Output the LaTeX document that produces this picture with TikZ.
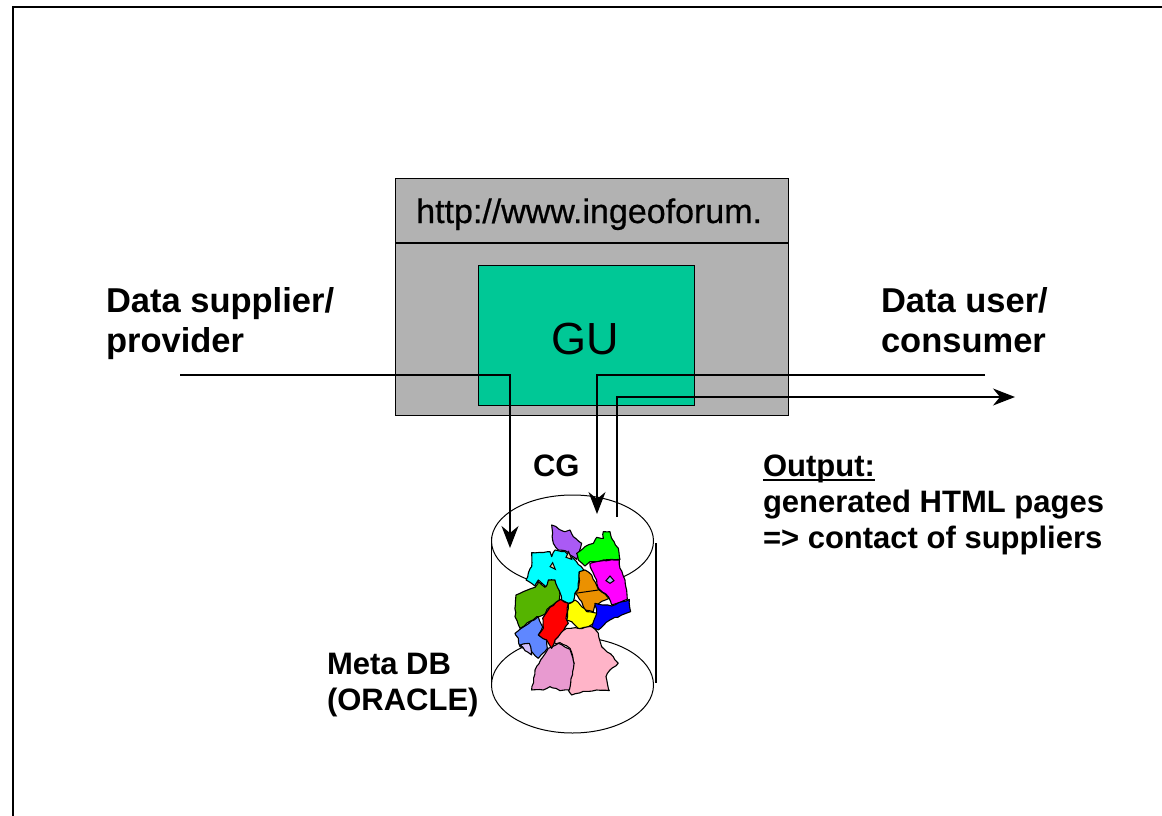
\documentclass[tikz,border=0pt]{standalone}
\usepackage{fontspec}
\setmainfont{Liberation Sans}
\newfontfamily\urlfont[FakeBold=0.6]{Liberation Sans}
\usetikzlibrary{arrows.meta,shapes.geometric,decorations.pathmorphing}
\definecolor{boxgray}{HTML}{B2B2B2}
\definecolor{guigreen}{HTML}{00C896}
\definecolor{mapcyan}{HTML}{00FFFF}
\definecolor{mapmagenta}{HTML}{FF00FF}
\definecolor{mapgreen}{HTML}{00FF00}
\definecolor{mapblue}{HTML}{0000FF}
\definecolor{mapred}{HTML}{FF0000}
\definecolor{mapyellow}{HTML}{FFFF00}
\tikzset{
  lbl/.style={anchor=base west,inner sep=0pt,outer sep=0pt,align=left,font=\fontsize{34.5}{40}\selectfont\bfseries},
  flow/.style={line width=1.3pt,black},
  tip/.style={-{Stealth[length=22pt,width=17pt,inset=7pt]}},
  state/.style={draw=black,line width=1.1pt,line join=round,decorate,decoration={random steps,segment length=4pt,amplitude=0.7pt}}
}
\begin{document}
\begin{tikzpicture}[x=1pt,y=-1pt]
      \useasboundingbox (0,0) rectangle (1162,816);

      \coordinate (f1) at (13,816);
      \coordinate (f2) at (13,7);
      \coordinate (f3) at (1162,7);
      \draw [line width=1.5pt] (f1) -- (f2) -- (f3);

      % web server box
      \node [draw, line width=1.2pt, fill=boxgray, minimum width=393pt, minimum height=237pt, inner sep=0pt, anchor=north west] (server) at (395,178) {};
      \coordinate (d1) at (395,243);
      \coordinate (d2) at (788,243);
      \draw [line width=1.2pt] (d1) -- (d2);
      \node [draw, line width=1.2pt, fill=guigreen, minimum width=216pt, minimum height=140pt, inner sep=0pt, anchor=north west] (gu) at (478,265) {};

      \node [anchor=base west, inner sep=0pt, font=\urlfont\fontsize{34}{34}\selectfont] (url) at (416,223) {http://www.ingeoforum.};
      \node [anchor=base west, inner sep=0pt, font=\fontsize{45}{45}\selectfont] (gulabel) at (551,354) {GU};

      % cylinder
      \node [draw, line width=1pt, ellipse, minimum width=162pt, minimum height=92pt, inner sep=0pt] (top) at (572.5,541) {};
      \node [draw, line width=1pt, ellipse, minimum width=162pt, minimum height=96pt, inner sep=0pt] (bottom) at (572.5,685) {};
      \coordinate (c1) at (491.5,537);
      \coordinate (c2) at (491.5,685);
      \coordinate (c3) at (656,543);
      \coordinate (c4) at (656,683);
      \draw [line width=1.2pt] (c1) -- (c2);
      \draw [line width=1.2pt] (c3) -- (c4);

      % map
      \begin{scope}[shift={(470,500)}, x=0.3333pt, y=-0.3333pt]
        \draw [state, fill={rgb,255:red,255;green,180;blue,200}] (250,405) -- (290,385) -- (325,385) -- (365,380) -- (385,400) -- (395,440) -- (430,470) -- (445,490) -- (420,510) -- (408,530) -- (418,572) -- (380,570) -- (340,574) -- (305,585) -- (295,570) -- (312,490) -- (300,445) -- (270,428) -- (255,432) -- cycle;
        \draw [state, fill={rgb,255:red,232;green,154;blue,208}] (235,445) -- (265,430) -- (300,448) -- (312,490) -- (298,570) -- (270,572) -- (240,560) -- (220,570) -- (185,570) -- (195,510) -- cycle;
        \draw [state, fill={rgb,255:red,95;green,135;blue,255}] (135,400) -- (205,350) -- (218,380) -- (205,405) -- (230,420) -- (232,445) -- (205,475) -- (185,455) -- (150,440) -- (145,415) -- cycle;
        \draw [state, fill={rgb,255:red,210;green,190;blue,250}] (150,435) -- (178,430) -- (185,465) -- (165,452) -- cycle;
        \draw [state, fill={rgb,255:red,85;green,180;blue,0}] (138,285) -- (195,262) -- (205,245) -- (225,262) -- (235,240) -- (255,240) -- (268,272) -- (268,300) -- (240,320) -- (220,345) -- (200,350) -- (150,385) -- (135,350) -- cycle;
        \draw [state, fill=mapcyan] (185,158) -- (240,155) -- (245,170) -- (255,150) -- (285,155) -- (310,175) -- (345,215) -- (328,215) -- (325,265) -- (315,280) -- (310,305) -- (295,310) -- (275,300) -- (268,272) -- (255,240) -- (235,240) -- (228,260) -- (205,240) -- (195,258) -- (168,240) -- (185,200) -- cycle;
        \draw [state, fill={rgb,255:red,170;green,90;blue,245}] (245,75) -- (285,95) -- (300,90) -- (310,110) -- (335,130) -- (320,178) -- (300,165) -- (285,152) -- (265,150) -- (250,130) -- (248,100) -- cycle;
        \draw [state, fill=mapgreen] (320,160) -- (345,140) -- (370,130) -- (380,112) -- (400,115) -- (400,95) -- (420,95) -- (425,115) -- (445,145) -- (450,178) -- (400,180) -- (385,185) -- (360,185) -- (345,198) -- (325,180) -- cycle;
        \draw [state, fill=mapmagenta] (360,190) -- (400,182) -- (448,180) -- (450,205) -- (465,240) -- (470,270) -- (472,298) -- (425,315) -- (415,290) -- (385,265) -- (380,240) -- (365,210) -- cycle;
        \draw [state, fill={rgb,255:red,235;green,145;blue,0}] (328,215) -- (345,210) -- (365,225) -- (385,268) -- (418,295) -- (375,315) -- (370,335) -- (345,330) -- (335,305) -- (315,280) -- (325,265) -- cycle;
        \draw [line width=1pt] (315,280) -- (385,270);
        \draw [state, fill=mapred] (272,298) -- (295,310) -- (288,355) -- (295,370) -- (265,410) -- (255,420) -- (245,445) -- (230,420) -- (205,405) -- (220,385) -- (218,355) -- (240,322) -- cycle;
        \draw [state, fill=mapyellow] (295,312) -- (315,300) -- (335,320) -- (350,335) -- (385,340) -- (375,365) -- (355,380) -- (325,385) -- (305,365) -- (290,360) -- cycle;
        \draw [state, fill=mapblue] (375,310) -- (425,318) -- (478,298) -- (482,335) -- (455,345) -- (420,360) -- (385,390) -- (365,380) -- (380,340) -- cycle;
        \draw [line width=1pt, fill={rgb,255:red,240;green,215;blue,170}] (288,172) -- (296,155) -- (305,178) -- cycle;
        \draw [line width=1pt, fill={rgb,255:red,240;green,215;blue,170}] (240,200) -- (248,188) -- (256,208) -- cycle;
        \draw [line width=1pt, fill={rgb,255:red,165;green,175;blue,235}] (408,242) -- (420,228) -- (432,242) -- (420,250) -- cycle;
      \end{scope}

      % flows
      \coordinate (p1) at (180,375);
      \coordinate (p2) at (510,375);
      \coordinate (p3) at (510,548);
      \draw [flow, tip] (p1) -- (p2) -- (p3);

      \coordinate (u1) at (985,375);
      \coordinate (u2) at (597,375);
      \coordinate (u3) at (597,514);
      \draw [flow, tip] (u1) -- (u2) -- (u3);

      \coordinate (o1) at (617,517);
      \coordinate (o2) at (617,397);
      \coordinate (o3) at (1015,397);
      \draw [flow, tip] (o1) -- (o2) -- (o3);

      % labels
      \node [lbl] (supplier) at (106,352) {Data supplier/\\provider};
      \node [lbl] (user) at (881,352) {Data user/\\consumer};
      \node [lbl, font=\fontsize{31}{36}\selectfont\bfseries] (cg) at (533,476) {CG};
      \node [lbl, font=\fontsize{31}{36}\selectfont\bfseries] (meta) at (327,710) {Meta DB\\(ORACLE)};
      \node [lbl, font=\fontsize{31}{36}\selectfont\bfseries] (output) at (763,548) {Output:\\generated HTML pages\\=> contact of suppliers};
      \coordinate (l1) at (763,480);
      \coordinate (l2) at (875,480);
      \draw [line width=2.4pt] (l1) -- (l2);
    \end{tikzpicture}
\end{document}
